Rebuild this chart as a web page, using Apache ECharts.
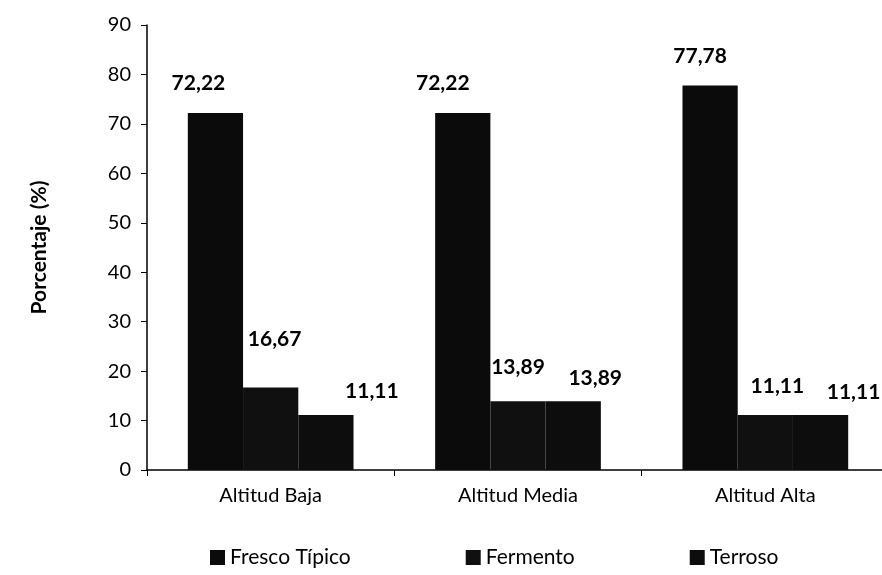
<!DOCTYPE html>
<html>
<head>
<meta charset="utf-8">
<script src="https://cdn.jsdelivr.net/npm/echarts@6/dist/echarts.min.js"></script>
<style>
  html, body { margin: 0; padding: 0; background: #fff; }
  #grafico { width: 882px; height: 575px; }
</style>
</head>
<body>
<div id="grafico"></div>
<script>
// datos
const categorias = ["Altitud Baja", "Altitud Media", "Altitud Alta"];
const series = ["Fresco Típico", "Fermento", "Terroso"];
const frescoTipico = [72.22, 72.22, 77.78];
const fermento = [16.67, 13.89, 11.11];
const terroso = [11.11, 13.89, 11.11];
const ticksY = [0, 10, 20, 30, 40, 50, 60, 70, 80, 90];

// desplazamiento de etiquetas como en el original (x, y)
const offsetsEtiquetas = [
  [[-17, -14], [-20, -14], [-10, -14]],
  [[4, -33], [0, -19], [12, -13]],
  [[46, -8], [22, -8], [33, -7]],
];
const colores = ["#0b0b0b", "#101010", "#0d0d0d"];

const fuente = "Lato, 'Open Sans', sans-serif";

const format = (v) => v.toFixed(2).replace(".", ",");

const myChart = echarts.init(document.getElementById("grafico"));

const valores = [frescoTipico, fermento, terroso];

myChart.setOption({
  animation: false,
  // el eje X del original sigue mas alla del borde derecho
  grid: { left: 147, width: 742, top: 25, bottom: 105, outerBoundsMode: "none" },
  legend: {
    top: 542,
    left: 205,
    itemGap: 115,
    itemWidth: 15,
    itemHeight: 15,
    icon: "rect",
    textStyle: { fontFamily: fuente, fontSize: 21, color: "#000" },
    data: series,
  },
  xAxis: {
    type: "category",
    data: categorias,
    axisLine: { lineStyle: { color: "#000", width: 1.5 } },
    axisTick: { show: true, length: 6, lineStyle: { color: "#000" } },
    axisLabel: { fontFamily: fuente, fontSize: 20, color: "#000", margin: 16 },
  },
  yAxis: {
    type: "value",
    min: ticksY[0],
    max: ticksY[ticksY.length - 1],
    interval: 10,
    name: "Porcentaje (%)",
    nameLocation: "middle",
    nameGap: 97,
    nameTextStyle: { fontFamily: fuente, fontSize: 21, fontWeight: "bold", color: "#000" },
    axisLine: { show: true, lineStyle: { color: "#000", width: 1.5 } },
    axisTick: { show: true, length: 6, lineStyle: { color: "#000" } },
    axisLabel: { fontFamily: fuente, fontSize: 20, color: "#000", margin: 16 },
    splitLine: { show: false },
  },
  series: series.map((nombre, s) => ({
    name: nombre,
    type: "bar",
    barGap: "0%",
    barCategoryGap: "33%",
    itemStyle: { color: colores[s] },
    label: {
      show: true,
      position: "top",
      fontFamily: fuente,
      fontSize: 21,
      fontWeight: "bold",
      color: "#000",
      formatter: (p) => format(p.value),
    },
    data: valores[s].map((v, i) => ({
      value: v,
      label: { offset: offsetsEtiquetas[s][i] },
    })),
  })),
});
</script>
</body>
</html>
